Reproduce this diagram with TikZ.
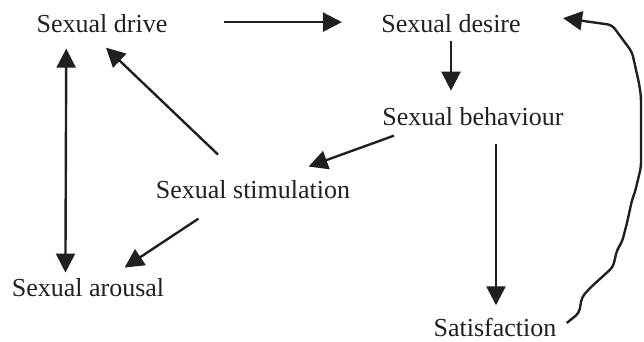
\documentclass[tikz,border=0pt]{standalone}
\usepackage{fontspec}
\setmainfont{Liberation Serif}
\usepackage{tikz}
\usetikzlibrary{arrows.meta,calc}
\definecolor{ink}{HTML}{231F20}
\tikzset{term/.style={inner sep=0pt, anchor=base, text=ink, font=\fontsize{13pt}{15pt}\selectfont},
         arr/.style={draw=ink, line width=1.2pt, -{Triangle[length=9.5pt,width=9.5pt]}}}

\begin{document}
\begin{tikzpicture}[x=0.5pt,y=-0.5pt]
            \useasboundingbox (0,0) rectangle (644,342);
            \node[term] (drive) at (102,33) {Sexual drive};
            \node[term] (desire) at (451,33) {Sexual desire};
            \node[term] (behav) at (473,126) {Sexual behaviour};
            \node[term] (stim) at (253,199) {Sexual stimulation};
            \node[term] (arousal) at (88,297) {Sexual arousal};
            \node[term] (satis) at (495,336) {Satisfaction};

            \draw[arr] ($(drive.east)+(56,-2)$) -- ($(desire.west)+(-39,-2)$);
            \draw[arr] ($(desire.south)+(0,7)$) -- ($(desire.south)+(0,57)$);
            \draw[arr] ($(behav.south west)+(12,9)$) -- ($(stim.north east)+(-42,-14)$);
            \draw[arr] ($(stim.north)+(-35,-26)$) -- ($(drive.south)+(4,14)$);
            \draw[arr, {Triangle[length=9.5pt,width=9.5pt]}-{Triangle[length=9.5pt,width=9.5pt]}] ($(drive.south west)+(30,15)$) -- ($(arousal.north west)+(54,-6)$);
            \draw[arr] ($(stim.south west)+(43,19)$) -- ($(arousal.north east)+(-40,-11)$);
            \draw[arr] ($(behav.south)+(23,17)$) -- ($(satis.north)+(1,-12)$);
            % wavy line back to desire
            \draw[arr, rounded corners=2pt] ($(satis.east)+(10,-4)$) -- (579,313) -- (582,297) -- (590,288) -- (613,267)
                -- (617,250) -- (622,242) -- (627,223) -- (632,200) -- (635,192) -- (641,167) -- (641,97)
                -- (639,83) -- (632,52) -- (612,25) -- ($(desire.east)+(42,-6)$);
        \end{tikzpicture}
\end{document}
